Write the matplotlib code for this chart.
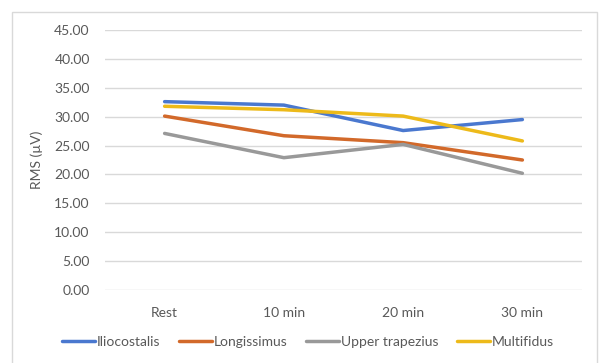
import matplotlib.pyplot as plt
from matplotlib.patches import Rectangle

categories = ['Rest', '10 min', '20 min', '30 min']
iliocostalis = [32.6, 32.0, 27.6, 29.5]
longissimus = [30.1, 26.7, 25.5, 22.5]
upper_trapezius = [27.1, 22.9, 25.2, 20.2]
multifidus = [31.8, 31.2, 30.1, 25.8]

series = [('Iliocostalis', iliocostalis, '#4A78CF'),
          ('Longissimus', longissimus, '#D2692A'),
          ('Upper trapezius', upper_trapezius, '#999999'),
          ('Multifidus', multifidus, '#EDBA1A')]

plt.rcParams['font.family'] = ['Lato', 'DejaVu Sans']

fig = plt.figure(figsize=(6, 3.63), dpi=100)
ax = fig.add_axes([105/600, 1 - 290/363, (582 - 105)/600, 260/363])

x = range(len(categories))
for name, vals, col in series:
    ax.plot(x, vals, color=col, lw=2.5, label=name,
            solid_capstyle='round', solid_joinstyle='round')

ax.set_xlim(-0.5, len(categories) - 0.5)
ax.set_ylim(0, 45)
ax.set_yticks(range(0, 46, 5))
ax.set_yticklabels(['%.2f' % v for v in range(0, 46, 5)])
ax.set_xticks(list(x))
ax.set_xticklabels(categories)
ax.grid(axis='y', color='#D9D9D9', lw=1)
ax.set_axisbelow(True)
for s in ax.spines.values():
    s.set_visible(False)
ax.tick_params(length=0, labelsize=10, colors='#595959')
ax.tick_params(axis='y', pad=11)
ax.tick_params(axis='x', pad=12)
ax.set_ylabel('RMS (µV)', fontsize=10, color='#595959', labelpad=0)
ax.yaxis.set_label_coords(-62/477, 0.5)

leg = fig.legend(*ax.get_legend_handles_labels(), loc='center',
                 bbox_to_anchor=(308/600, 1 - 342/363), ncol=4,
                 frameon=False, fontsize=10, handlelength=2.4,
                 handletextpad=0.15, columnspacing=1.3)
for t in leg.get_texts():
    t.set_color('#595959')

# outer chart border
fig.patches.append(Rectangle((12/600, -0.05), (597 - 12)/600, 1 - 12/363 + 0.05,
                             transform=fig.transFigure, fill=False,
                             edgecolor='#D9D9D9', lw=1))

fig.savefig('out.png', dpi=100)
